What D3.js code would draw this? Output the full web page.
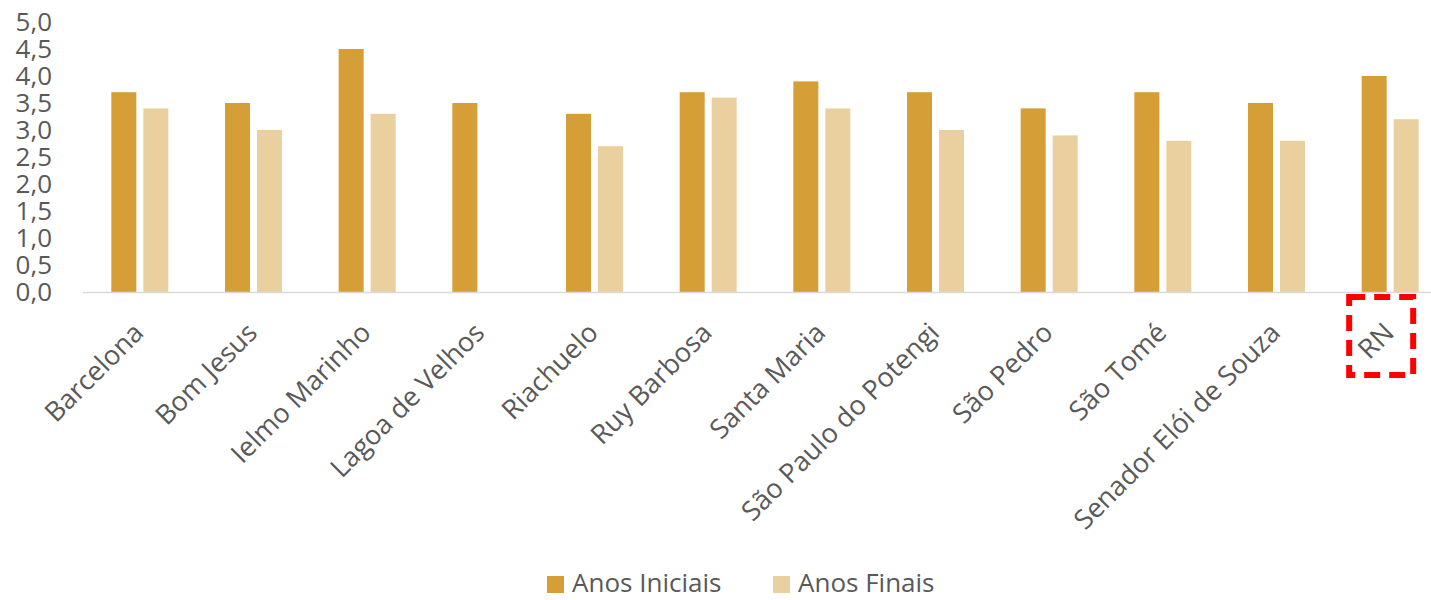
<!DOCTYPE html>
<html>
<head>
<meta charset="utf-8">
<script src="https://cdn.jsdelivr.net/npm/d3@7"></script>
<style>
  body { margin: 0; background: #fff; }
  svg { display: block; font-family: "Open Sans", sans-serif; }
</style>
</head>
<body>
<svg id="chart"></svg>
<script>
// Chart data
const categories = ["Barcelona", "Bom Jesus", "Ielmo Marinho", "Lagoa de Velhos", "Riachuelo",
  "Ruy Barbosa", "Santa Maria", "São Paulo do Potengi", "São Pedro", "São Tomé",
  "Senador Elói de Souza", "RN"];
const seriesNames = ["Anos Iniciais", "Anos Finais"];
const anosIniciais = [3.7, 3.5, 4.5, 3.5, 3.3, 3.7, 3.9, 3.7, 3.4, 3.7, 3.5, 4.0];
const anosFinais = [3.4, 3.0, 3.3, null, 2.7, 3.6, 3.4, 3.0, 2.9, 2.8, 2.8, 3.2];
const yTicks = [0, 0.5, 1, 1.5, 2, 2.5, 3, 3.5, 4, 4.5, 5];
const highlighted = "RN";

const colors = ["#D59E37", "#EBD09F"];
const width = 1431, height = 600;
const margin = { top: 22, left: 83, bottom: 308 };
const plotRight = 1447;   // plot area runs slightly past the window edge
const axisY = 292;

const svg = d3.select("#chart").attr("width", width).attr("height", height);

const x = d3.scaleBand().domain(categories).range([margin.left, plotRight]);
const y = d3.scaleLinear().domain([0, 5]).range([axisY, margin.top]);

const barW = 25, barGap = 7;
const groupW = barW * 2 + barGap;

// y axis labels
svg.append("g").selectAll("text")
  .data(yTicks)
  .enter().append("text")
  .attr("x", 52)
  .attr("y", d => y(d))
  .attr("dy", "0.35em")
  .attr("text-anchor", "end")
  .attr("fill", "#595959")
  .style("font-size", "26px")
  .text(d => d3.format(".1f")(d).replace(".", ","));

// bars
const series = [anosIniciais, anosFinais];
series.forEach((vals, s) => {
  svg.append("g").selectAll("rect")
    .data(categories.map((c, i) => ({ c, v: vals[i] })).filter(d => d.v != null))
    .enter().append("rect")
    .attr("x", d => x(d.c) + (x.bandwidth() - groupW) / 2 + s * (barW + barGap))
    .attr("y", d => y(d.v))
    .attr("width", barW)
    .attr("height", d => y(0) - y(d.v))
    .attr("fill", colors[s]);
});

// x axis line
svg.append("line")
  .attr("x1", margin.left).attr("x2", plotRight)
  .attr("y1", axisY + 0.5).attr("y2", axisY + 0.5)
  .attr("stroke", "#D9D9D9").attr("stroke-width", 1.5);

// category labels
svg.append("g").selectAll("text")
  .data(categories)
  .enter().append("text")
  .attr("transform", d => "translate(" + (x(d) + x.bandwidth() / 2 - 8) + "," + (axisY + 29) + ") rotate(-45)")
  .attr("text-anchor", "end")
  .attr("dy", "0.7em")
  .attr("fill", "#595959")
  .style("font-size", "27px")
  .text(d => d);

// dashed box around the state total
const hx = x(highlighted) + x.bandwidth() / 2;
svg.append("rect")
  .attr("x", hx - 41).attr("y", 297)
  .attr("width", 64).attr("height", 78)
  .attr("fill", "none")
  .attr("stroke", "#FF0000")
  .attr("stroke-width", 6)
  .attr("stroke-dasharray", "16,9");

// legend
const legend = svg.append("g").attr("transform", "translate(547,583)");
const legendX = [0, 226];
seriesNames.forEach((n, i) => {
  const g = legend.append("g").attr("transform", "translate(" + legendX[i] + ",0)");
  g.append("rect").attr("x", 0).attr("y", -7).attr("width", 17).attr("height", 17).attr("fill", colors[i]);
  g.append("text").attr("x", 25).attr("y", 0).attr("dy", "0.35em")
    .attr("fill", "#595959").style("font-size", "26px").text(n);
});
</script>
</body>
</html>
